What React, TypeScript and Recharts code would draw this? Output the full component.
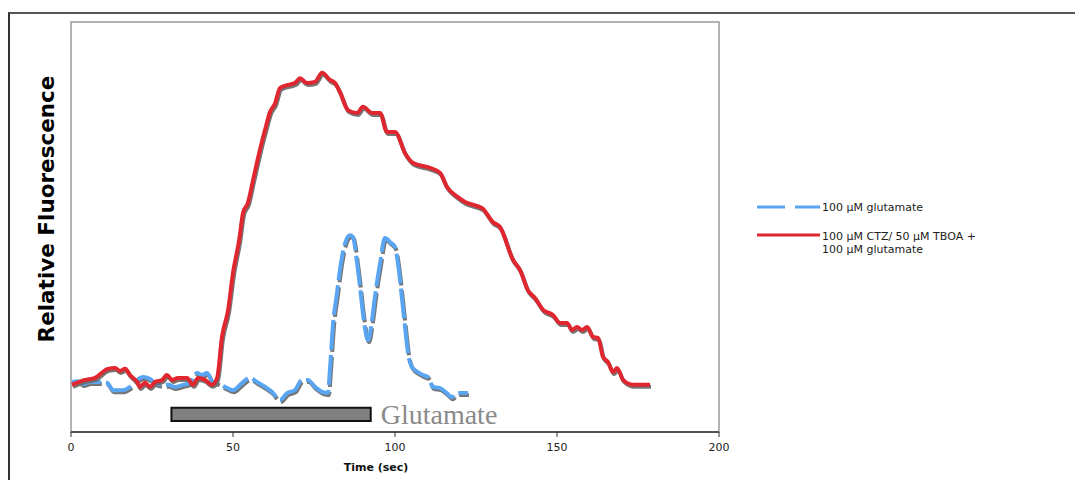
import React from "react";
import {
  Label,
  Line,
  LineChart,
  ReferenceArea,
  XAxis,
  YAxis,
} from "recharts";

// time (sec) and relative fluorescence
const blueTime = [
  0.3, 2.2, 3.7, 5.9, 8.3, 11.1, 13.0, 16.0, 18.2, 20.4, 22.2, 24.4, 25.9,
  28.1, 29.9, 32.1, 34.6, 36.7, 38.9, 40.4, 42.0, 43.8, 45.4, 47.5, 50.0,
  52.2, 55.2, 57.4, 59.9, 62.0, 64.5, 66.7, 69.1, 71.3, 73.1, 75.3, 77.5,
  79.3, 79.9, 80.9, 82.1, 83.0, 84.6, 86.1, 87.0, 88.3, 89.2, 90.1, 91.7,
  92.9, 93.8, 95.4, 96.9, 98.5, 100.0, 100.9, 102.2, 103.1, 104.0, 105.2,
  107.1, 108.6, 110.2, 111.7, 113.9, 116.0, 117.6, 119.1, 122.5,
];
const blueValue = [
  12.2, 12.4, 11.7, 12.2, 12.2, 12.0, 10.2, 10.2, 11.0, 12.7, 13.4, 12.9,
  12.0, 11.5, 11.5, 11.0, 11.5, 12.0, 14.4, 13.9, 14.4, 12.2, 12.0, 11.0,
  10.2, 11.5, 13.2, 12.2, 11.0, 9.8, 7.8, 9.5, 10.2, 12.7, 12.7, 11.0, 9.8,
  9.5, 15.1, 26.6, 33.9, 39.5, 46.1, 48.0, 47.6, 41.2, 35.4, 29.0, 22.4,
  27.3, 32.9, 41.2, 47.3, 46.3, 45.1, 41.2, 32.2, 25.6, 19.3, 15.9, 14.6,
  13.9, 13.4, 11.0, 10.7, 9.5, 8.5, 9.5, 9.5,
];

const redTime = [
  0.3, 4.3, 7.4, 11.4, 13.6, 15.1, 16.7, 18.2, 20.4, 21.3, 22.8, 24.4, 25.9,
  28.1, 29.6, 31.2, 33.0, 35.8, 37.7, 39.2, 41.4, 43.5, 45.1, 46.6, 48.5,
  50.0, 51.9, 53.1, 54.6, 56.2, 58.3, 59.9, 61.4, 63.0, 64.5, 66.7, 69.1,
  70.7, 72.8, 75.3, 77.5, 79.9, 81.5, 83.0, 85.5, 88.3, 90.1, 92.9, 95.4,
  97.5, 100.0, 103.1, 105.6, 110.8, 113.9, 116.0, 119.4, 121.6, 126.9,
  130.2, 132.4, 136.4, 138.6, 141.0, 143.2, 145.7, 148.8, 150.9, 153.1,
  154.6, 156.2, 157.7, 159.3, 161.1, 162.7, 164.2, 165.7, 167.3, 168.5,
  170.4, 173.5, 178.7,
];
const redValue = [
  11.5, 12.7, 13.2, 15.4, 15.6, 14.9, 15.4, 13.9, 12.2, 11.0, 12.0, 11.0,
  12.2, 12.7, 13.9, 12.7, 13.2, 13.2, 11.5, 13.2, 12.7, 11.5, 13.2, 23.2,
  29.8, 38.8, 46.8, 53.4, 55.9, 61.5, 68.8, 73.7, 78.0, 80.2, 83.9, 84.6,
  85.1, 86.3, 85.1, 85.4, 87.6, 85.9, 85.1, 82.9, 78.5, 77.8, 79.3, 77.8,
  77.8, 73.2, 73.2, 68.0, 65.6, 64.4, 63.2, 59.8, 57.3, 56.1, 54.6, 51.2,
  50.0, 42.0, 39.5, 34.6, 32.7, 29.8, 28.5, 26.6, 26.6, 24.9, 25.6, 24.9,
  25.6, 23.2, 22.9, 18.3, 17.1, 14.6, 15.6, 12.7, 11.5, 11.5,
];

const xTicks = [0, 50, 100, 150, 200];
const glutamateStart = 31;
const glutamateEnd = 92.5;

const blueData = blueTime.map((t, i) => ({ t, v: blueValue[i] }));
const redData = redTime.map((t, i) => ({ t, v: redValue[i] }));

const BLUE = "#5aa5f2";
const RED = "#e0262f";

export default function App() {
  return (
    <div
      style={{
        position: "absolute",
        left: 0,
        top: 0,
        width: 1075,
        height: 480,
        overflow: "hidden",
        background: "#fff",
        fontFamily: "'DejaVu Sans', Verdana, sans-serif",
      }}
    >
      <style>{`.recharts-line-curve { filter: drop-shadow(1px 2px 0 rgba(110,110,110,0.95)); }`}</style>
      <div
        style={{
          position: "absolute",
          left: 8,
          top: 12,
          width: 1100,
          height: 500,
          borderTop: "2px solid #555",
          borderLeft: "2px solid #333",
        }}
      />
      <div style={{ position: "absolute", left: 0, top: 0 }}>
        <LineChart
          width={1075}
          height={480}
          margin={{ top: 22, right: 356, bottom: 6, left: 71 }}
        >
          <XAxis
            type="number"
            dataKey="t"
            domain={[0, 200]}
            ticks={xTicks}
            height={42}
            tickSize={5}
            tickMargin={6}
            axisLine={{ stroke: "#333", strokeWidth: 1.5 }}
            tickLine={{ stroke: "#333" }}
            tick={{ fontSize: 11, fill: "#222", fontFamily: "DejaVu Sans" }}
            allowDataOverflow
          >
            <Label
              value="Time (sec)"
              position="insideBottom"
              offset={3}
              dx={-19}
              style={{ fontSize: 11, fontWeight: 700, fill: "#111" }}
            />
          </XAxis>
          <YAxis type="number" domain={[0, 100]} hide allowDataOverflow />
          <ReferenceArea
            x1={0}
            x2={200}
            y1={0}
            y2={100}
            fill="none"
            stroke="#999"
            strokeWidth={1.5}
          />
          <ReferenceArea
            x1={glutamateStart}
            x2={glutamateEnd}
            y1={2.7}
            y2={5.9}
            fill="#808080"
            fillOpacity={1}
            stroke="#111"
            strokeWidth={2}
            label={{
              value: "Glutamate",
              position: "right",
              offset: 10,
              style: {
                fontFamily: "'Liberation Serif', serif",
                fontSize: 28,
                fill: "#8a8a8a",
              },
            }}
          />
          <Line
            data={blueData}
            dataKey="v"
            type="monotone"
            stroke={BLUE}
            strokeWidth={4}
            strokeDasharray="30 5"
            dot={false}
            activeDot={false}
            isAnimationActive={false}
          />
          <Line
            data={redData}
            dataKey="v"
            type="monotone"
            stroke={RED}
            strokeWidth={4}
            dot={false}
            activeDot={false}
            isAnimationActive={false}
          />
        </LineChart>
      </div>
      <div
        style={{
          position: "absolute",
          left: 46,
          top: 209,
          transform: "translate(-50%, -50%) rotate(-90deg)",
          whiteSpace: "nowrap",
          fontSize: 21.5,
          fontWeight: 900,
          color: "#000",
          fontFamily: "'DejaVu Sans', sans-serif",
        }}
      >
        Relative Fluorescence
      </div>
      <svg
        style={{ position: "absolute", left: 755, top: 196 }}
        width={70}
        height={50}
      >
        <line x1={2} y1={11} x2={30} y2={11} stroke={BLUE} strokeWidth={3} />
        <line x1={40} y1={11} x2={65} y2={11} stroke={BLUE} strokeWidth={3} />
        <line x1={2} y1={39} x2={65} y2={39} stroke={RED} strokeWidth={3} />
      </svg>
      <div
        style={{
          position: "absolute",
          left: 822,
          top: 201,
          fontSize: 11,
          color: "#222",
          lineHeight: "13px",
        }}
      >
        100 µM glutamate
      </div>
      <div
        style={{
          position: "absolute",
          left: 822,
          top: 230,
          fontSize: 11,
          color: "#222",
          lineHeight: "13px",
        }}
      >
        100 µM CTZ/ 50 µM TBOA +
        <br />
        100 µM glutamate
      </div>
    </div>
  );
}
